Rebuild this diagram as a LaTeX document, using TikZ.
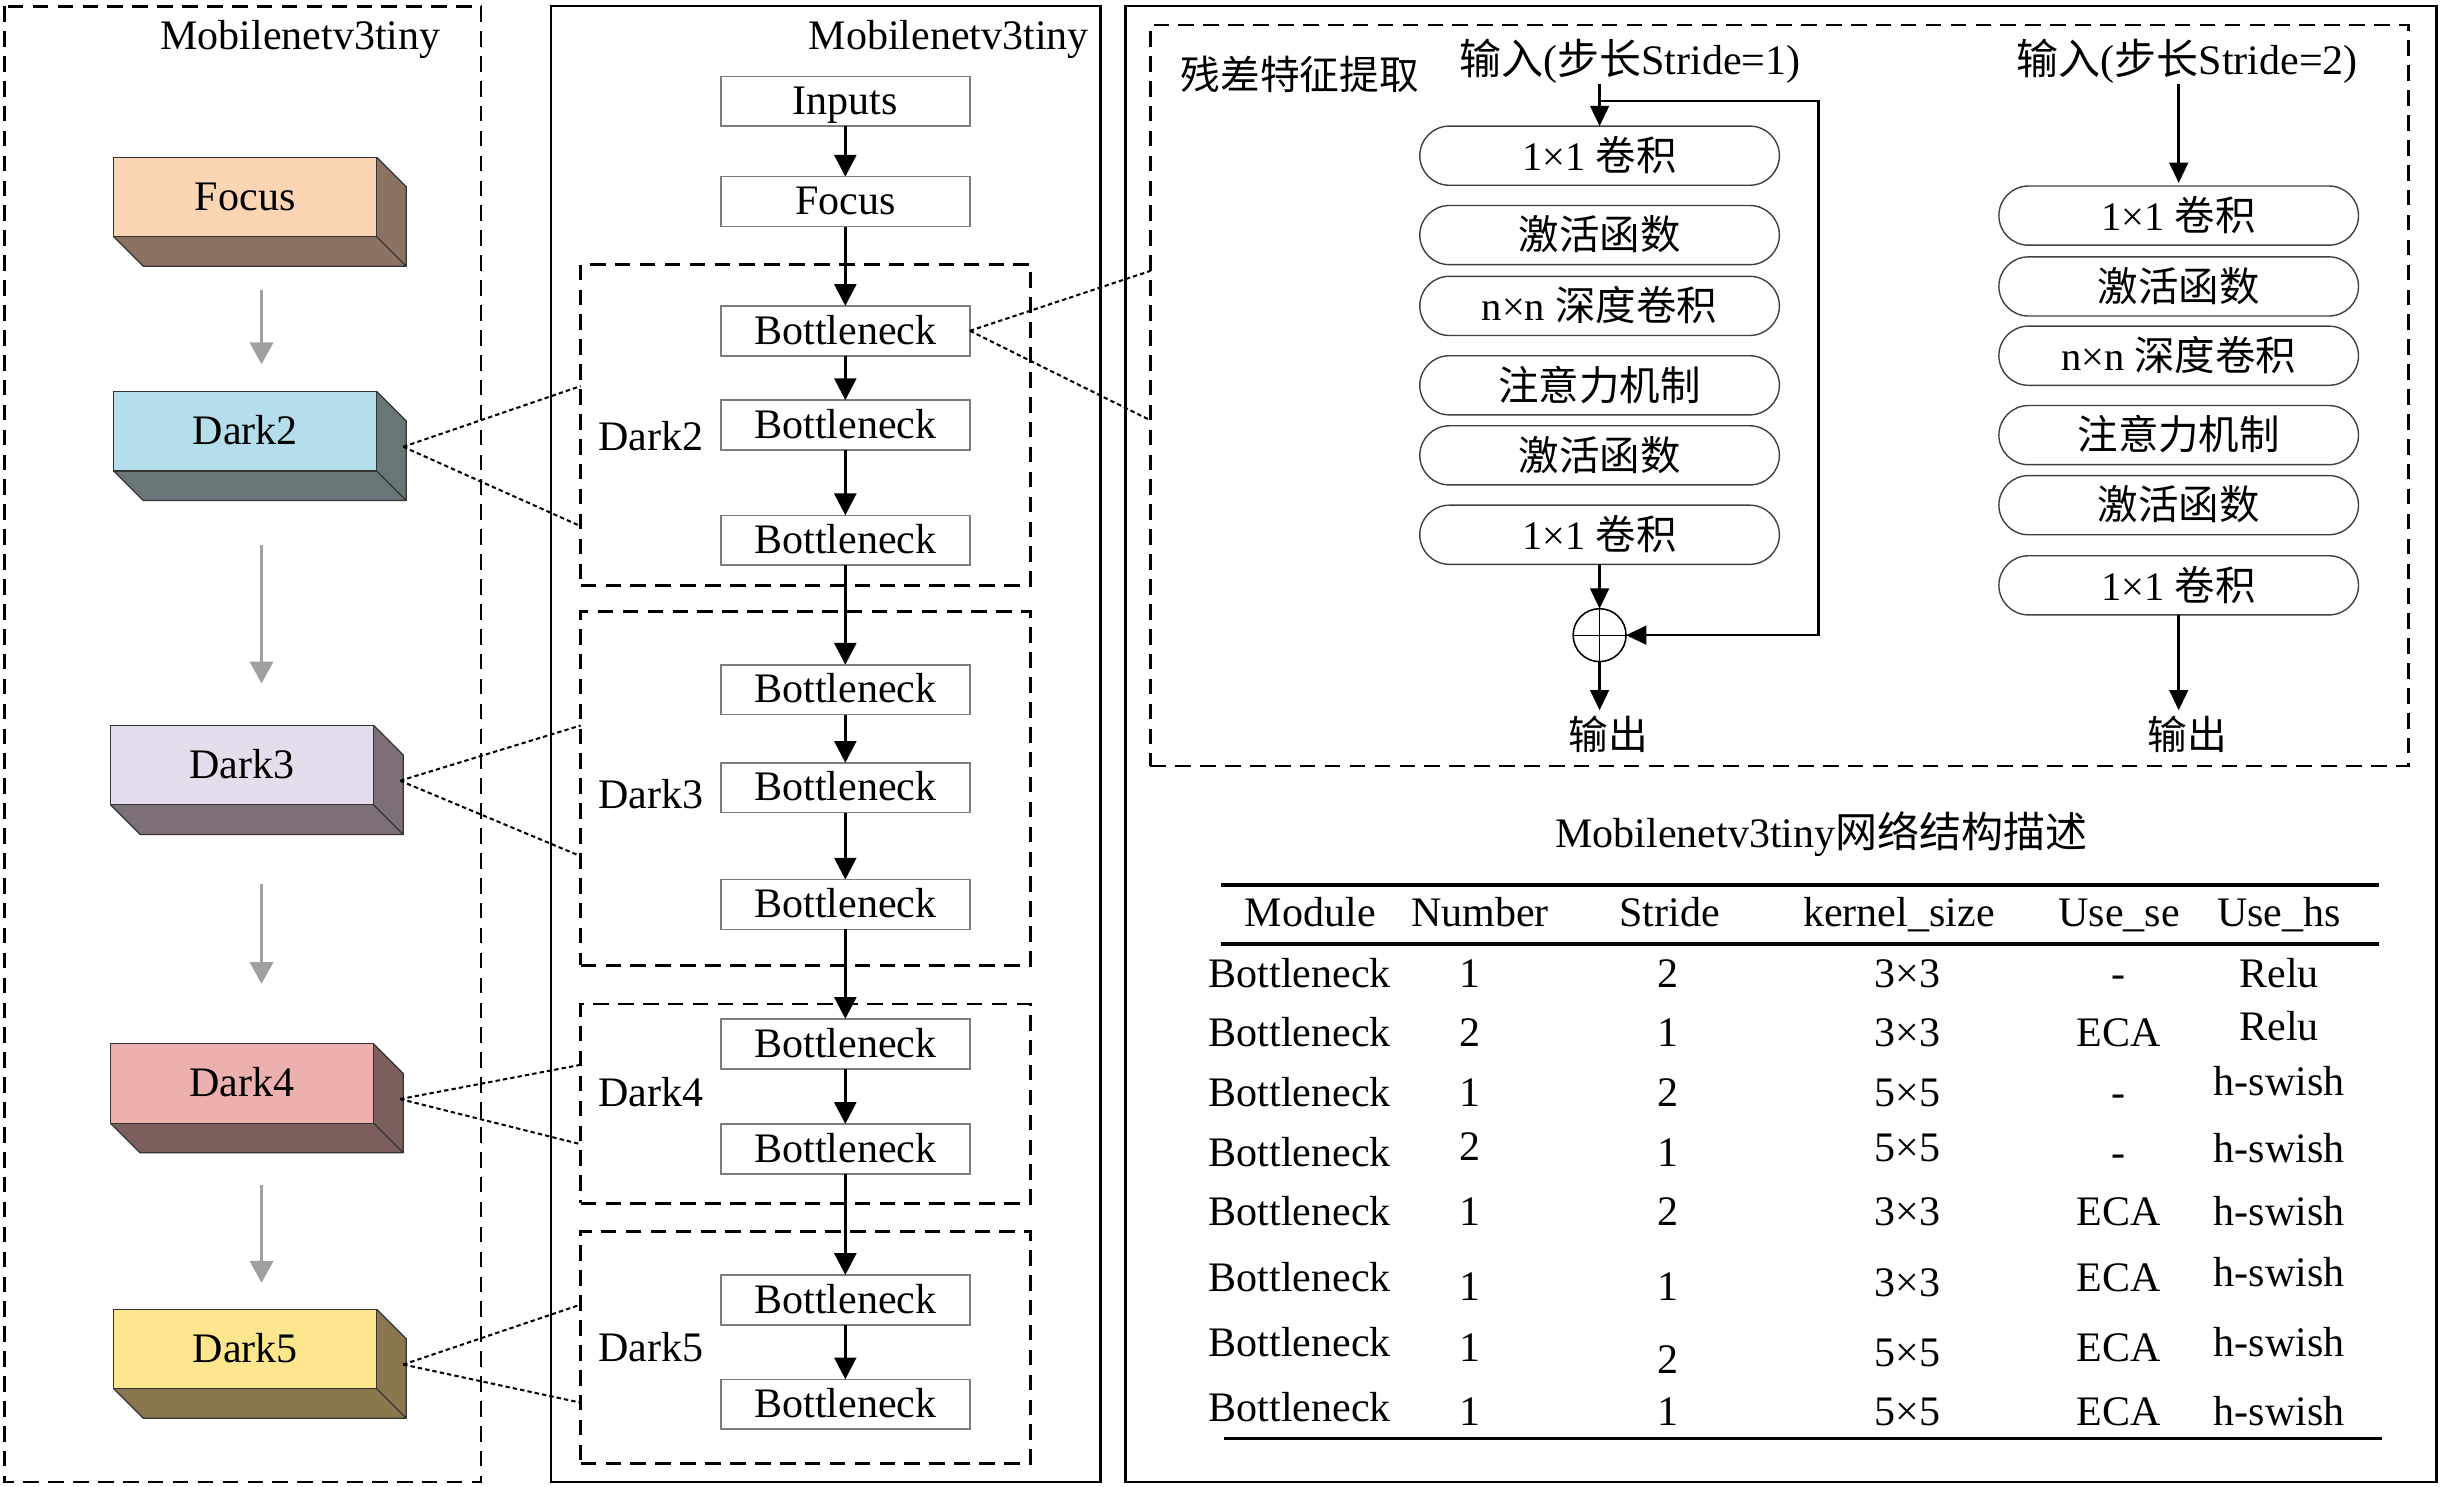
\documentclass[tikz,border=0pt]{standalone}
\usepackage{fontspec}
\setmainfont{Liberation Serif}
\newfontfamily\cjk{Noto Sans CJK SC}
\usetikzlibrary{arrows.meta,calc}
\definecolor{focusF}{RGB}{252,213,180}
\definecolor{focusD}{RGB}{140,114,98}
\definecolor{dtwoF}{RGB}{180,222,236}
\definecolor{dtwoD}{RGB}{104,118,120}
\definecolor{dthreeF}{RGB}{229,221,236}
\definecolor{dthreeD}{RGB}{125,112,122}
\definecolor{dfourF}{RGB}{236,176,175}
\definecolor{dfourD}{RGB}{125,96,93}
\definecolor{dfiveF}{RGB}{253,230,142}
\definecolor{dfiveD}{RGB}{139,119,78}
\definecolor{arrgray}{RGB}{160,160,160}
\definecolor{boxgray}{RGB}{125,125,125}
\newcommand\mkblock[6]{%
  \node[blockfront,fill=#4] (#1) at (#2,#3) {#6};
  \fill[#5] (#1.north east) -- ++(19,19) -- ($(#1.south east)+(19,19)$) -- ($(#1.south west)+(19,19)$) -- (#1.south west) -- (#1.south east) -- cycle;
  \draw[blockface] (#1.north east) -- ++(19,19) -- ($(#1.south east)+(19,19)$) -- ($(#1.south west)+(19,19)$) -- (#1.south west) (#1.south east) -- ++(19,19);
  \draw[blockface] (#1.south west) rectangle (#1.north east);
}
\newcommand\tcell[4]{\node[txt,anchor=base] (#1) at (#2,#3) {#4};}
\begin{document}
\begin{tikzpicture}[x=1pt,y=-1pt,
  every node/.style={inner sep=0pt,outer sep=0pt},
  txt/.style={font=\fontsize{27}{31}\selectfont},
  ctxt/.style={font=\fontsize{25.5}{30}\selectfont\cjk},
  blockfront/.style={draw=black!80,line width=0.8pt,minimum width=169pt,minimum height=51pt,txt,text height=17pt,text depth=0pt},
  blockface/.style={draw=black!80,line width=0.8pt,line join=round},
  grayarr/.style={draw=arrgray,line width=1.5pt,-{Triangle[width=15pt,length=14pt]}},
  mbox/.style={draw=boxgray,line width=1pt,minimum width=160pt,minimum height=32pt,txt,text height=17pt,text depth=0pt},
  grp/.style={draw=black,line width=1.7pt,dash pattern=on 10pt off 6pt},
  dotl/.style={draw=black,line width=1.3pt,dash pattern=on 2.8pt off 2pt},
  arr/.style={draw=black,line width=2pt,-{Triangle[width=14pt,length=14pt]}},
  arrb/.style={draw=black,line width=1.6pt,-{Triangle[width=12pt,length=13pt]}},
  pill/.style={draw=black!75,line width=0.9pt,rounded corners=19pt,minimum width=231pt,minimum height=38pt,font=\fontsize{26}{30}\selectfont,text height=19pt,text depth=0pt},
  rule/.style={line width=2.2pt}
]
\useasboundingbox (0,0) rectangle (1568,955);

% ---------------- left panel ----------------
\draw[line width=1.7pt,dash pattern=on 10pt off 6pt] (3,4) rectangle (309,952);
\node[txt,anchor=base] (ttl) at (193,31.5) {Mobilenetv3tiny};
\mkblock{focus}{157.5}{126.5}{focusF}{focusD}{Focus}
\mkblock{dtwo}{157.5}{277}{dtwoF}{dtwoD}{Dark2}
\mkblock{dthree}{155.5}{491.5}{dthreeF}{dthreeD}{Dark3}
\mkblock{dfour}{155.5}{696}{dfourF}{dfourD}{Dark4}
\mkblock{dfive}{157.5}{866.5}{dfiveF}{dfiveD}{Dark5}
\coordinate (ga1) at (168,186); \coordinate (gb1) at (168,234);
\coordinate (ga2) at (168,350); \coordinate (gb2) at (168,439);
\coordinate (ga3) at (168,568); \coordinate (gb3) at (168,632);
\coordinate (ga4) at (168,761); \coordinate (gb4) at (168,824);
\draw[grayarr] (ga1) -- (gb1);
\draw[grayarr] (ga2) -- (gb2);
\draw[grayarr] (ga3) -- (gb3);
\draw[grayarr] (ga4) -- (gb4);

% ---------------- middle panel ----------------
\draw[line width=1.5pt] (354,4) rectangle (707,952);
\node[txt,anchor=base] (ttm) at (609.5,32) {Mobilenetv3tiny};
\node[grp,minimum width=289pt,minimum height=206pt] (gtwo) at (517.5,273) {};
\node[grp,minimum width=289pt,minimum height=227pt] (gthree) at (517.5,506.5) {};
\node[grp,minimum width=289pt,minimum height=128pt] (gfour) at (517.5,709) {};
\node[grp,minimum width=289pt,minimum height=149pt] (gfive) at (517.5,865.5) {};
\node[txt] (ltwo) at (418,280) {Dark2};
\node[txt] (lthree) at (418,510) {Dark3};
\node[txt] (lfour) at (418,701.5) {Dark4};
\node[txt] (lfive) at (418,865.6) {Dark5};
\node[mbox] (inp) at (543,65) {Inputs};
\node[mbox] (foc) at (543,129.5) {Focus};
\node[mbox] (b21) at (543,212.5) {Bottleneck};
\node[mbox] (b22) at (543,273) {Bottleneck};
\node[mbox] (b23) at (543,347) {Bottleneck};
\node[mbox] (b31) at (543,443) {Bottleneck};
\node[mbox] (b32) at (543,506) {Bottleneck};
\node[mbox] (b33) at (543,581) {Bottleneck};
\node[mbox] (b41) at (543,670.5) {Bottleneck};
\node[mbox] (b42) at (543,738) {Bottleneck};
\node[mbox] (b51) at (543,835) {Bottleneck};
\node[mbox] (b52) at (543,902) {Bottleneck};
\foreach \a/\b in {inp/foc,foc/b21,b21/b22,b22/b23,b23/b31,b31/b32,b32/b33,b33/b41,b41/b42,b42/b51,b51/b52}
  \draw[arr] (\a.south) -- (\b.north);

% dotted links left -> middle
\draw[dotl] ($(dtwo.east)+(17,10)$) -- (gtwo.west |- 0,248);
\draw[dotl] ($(dtwo.east)+(17,10)$) -- (gtwo.west |- 0,338);
\draw[dotl] ($(dthree.east)+(17,10)$) -- (gthree.west |- 0,466);
\draw[dotl] ($(dthree.east)+(17,10)$) -- (gthree.west |- 0,550);
\draw[dotl] ($(dfour.east)+(17,10)$) -- (gfour.west |- 0,684);
\draw[dotl] ($(dfour.east)+(17,10)$) -- (gfour.west |- 0,735);
\draw[dotl] ($(dfive.east)+(17,10)$) -- (gfive.west |- 0,838);
\draw[dotl] ($(dfive.east)+(17,10)$) -- (gfive.west |- 0,901);

% ---------------- right panel ----------------
\draw[line width=1.5pt] (723,4) rectangle (1565,952);
\node[grp,minimum width=808pt,minimum height=476pt] (res) at (1143,254) {};
\draw[dotl] (b21.east) -- (res.west |- 0,174);
\draw[dotl] (b21.east) -- (res.west |- 0,270);
\node[ctxt] (rtitle) at (835,48) {残差特征提取};
\node[txt,anchor=base] (inone) at (1047,48) {{\cjk 输入}({\cjk 步长}Stride=1)};
\node[txt,anchor=base] (intwo) at (1405,48) {{\cjk 输入}({\cjk 步长}Stride=2)};

% stride 1 column
\node[pill] (p11) at (1027.5,100) {1×1 {\cjk 卷积}};
\node[pill] (p12) at (1027.5,151) {\cjk 激活函数};
\node[pill] (p13) at (1027.5,196.5) {n×n {\cjk 深度卷积}};
\node[pill] (p14) at (1027.5,247.5) {\cjk 注意力机制};
\node[pill] (p15) at (1027.5,292.5) {\cjk 激活函数};
\node[pill] (p16) at (1027.5,343.5) {1×1 {\cjk 卷积}};
\node[circle,draw=black,line width=1pt,minimum size=34pt] (circ) at (1027.5,408) {};
\draw[line width=0.6pt] (circ.north) -- (circ.south) (circ.west) -- (circ.east);
\node[ctxt] (oone) at (1033,472) {输出};
\coordinate (brk) at (1027.5,65);
\coordinate (skp) at (1168,408);
\draw[arrb] (p11.north |- inone.south) -- (p11.north);
\draw[arrb] (brk) -| (skp) -- (circ.east);
\draw[arrb] (p16.south) -- (circ.north);
\draw[arrb] (circ.south) -- ($(circ.south |- oone.north)+(0,-4)$);

% stride 2 column
\node[pill] (p21) at (1399.5,138.5) {1×1 {\cjk 卷积}};
\node[pill] (p22) at (1399.5,184) {\cjk 激活函数};
\node[pill] (p23) at (1399.5,228.5) {n×n {\cjk 深度卷积}};
\node[pill] (p24) at (1399.5,279.5) {\cjk 注意力机制};
\node[pill] (p25) at (1399.5,324.5) {\cjk 激活函数};
\node[pill] (p26) at (1399.5,376) {1×1 {\cjk 卷积}};
\node[ctxt] (otwo) at (1405,472) {输出};
\draw[arrb] (p21.north |- intwo.south) -- ($(p21.north)+(0,-2)$);
\draw[arrb] (p26.south) -- ($(p26.south |- otwo.north)+(0,-4)$);

% ---------------- table ----------------
\node[txt] (ttab) at (1170,536) {Mobilenetv3tiny{\cjk 网络结构描述}};
\draw[rule] (784,568.5) -- (1528,568.5);
\draw[rule] (784,606.5) -- (1528,606.5);
\draw[rule] (786,924) -- (1530,924);
\tcell{h1}{841.7}{595}{Module}
\tcell{h2}{950.7}{595}{Number}
\tcell{h3}{1072.6}{595}{Stride}
\tcell{h4}{1219.8}{595}{kernel\_size}
\tcell{h5}{1361.3}{595}{Use\_se}
\tcell{h6}{1464}{595}{Use\_hs}
% row 1
\tcell{r11}{835}{634.5}{Bottleneck}
\tcell{r12}{944}{634.5}{1}
\tcell{r13}{1071.5}{634.5}{2}
\tcell{r14}{1225.5}{634.5}{3×3}
\tcell{r15}{1361}{634.5}{-}
\tcell{r16}{1464}{634.5}{Relu}
% row 2
\tcell{r21}{835}{672}{Bottleneck}
\tcell{r22}{944}{672}{2}
\tcell{r23}{1071.5}{672}{1}
\tcell{r24}{1225.5}{672}{3×3}
\tcell{r25}{1361}{672}{ECA}
\tcell{r26}{1464}{668.5}{Relu}
% row 3
\tcell{r31}{835}{710.5}{Bottleneck}
\tcell{r32}{944}{711}{1}
\tcell{r33}{1071.5}{711}{2}
\tcell{r34}{1225.5}{711}{5×5}
\tcell{r35}{1361}{711}{-}
\tcell{r36}{1464}{704}{h-swish}
% row 4
\tcell{r41}{835}{749}{Bottleneck}
\tcell{r42}{944}{745.5}{2}
\tcell{r43}{1071.5}{749.5}{1}
\tcell{r44}{1225.5}{746}{5×5}
\tcell{r45}{1361}{749.5}{-}
\tcell{r46}{1464}{746.5}{h-swish}
% row 5
\tcell{r51}{835}{787.5}{Bottleneck}
\tcell{r52}{944}{787.5}{1}
\tcell{r53}{1071.5}{787.5}{2}
\tcell{r54}{1225.5}{787.5}{3×3}
\tcell{r55}{1361}{787.5}{ECA}
\tcell{r56}{1464}{787.5}{h-swish}
% row 6
\tcell{r61}{835}{829.5}{Bottleneck}
\tcell{r62}{944}{835.5}{1}
\tcell{r63}{1071.5}{835.5}{1}
\tcell{r64}{1225.5}{832.5}{3×3}
\tcell{r65}{1361}{829.5}{ECA}
\tcell{r66}{1464}{826.5}{h-swish}
% row 7
\tcell{r71}{835}{871.5}{Bottleneck}
\tcell{r72}{944}{874.5}{1}
\tcell{r73}{1071.5}{882}{2}
\tcell{r74}{1225.5}{877.5}{5×5}
\tcell{r75}{1361}{874.5}{ECA}
\tcell{r76}{1464}{871.5}{h-swish}
% row 8
\tcell{r81}{835}{913}{Bottleneck}
\tcell{r82}{944}{915.5}{1}
\tcell{r83}{1071.5}{915.5}{1}
\tcell{r84}{1225.5}{915.5}{5×5}
\tcell{r85}{1361}{915.5}{ECA}
\tcell{r86}{1464}{915.5}{h-swish}
\end{tikzpicture}
\end{document}
